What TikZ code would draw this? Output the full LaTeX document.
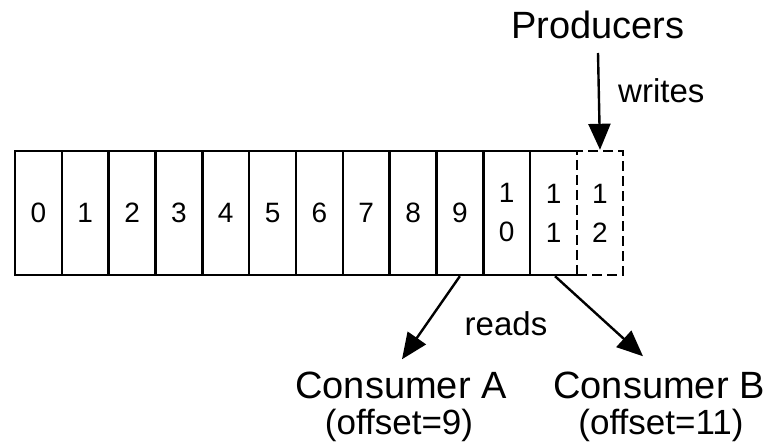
\documentclass[tikz,border=0pt]{standalone}
\usepackage{fontspec}
\setmainfont{Liberation Sans}
\usetikzlibrary{arrows.meta}
\begin{document}
\begin{tikzpicture}[x=1pt,y=-1pt,
  cell/.style={draw, line width=2.4pt, minimum width=46.8pt, minimum height=124pt,
    inner sep=0pt, align=center, font=\fontsize{28}{39}\selectfont},
  newcell/.style={cell, dashed, dash pattern=on 10pt off 5pt, minimum width=46pt},
  big/.style={inner sep=0pt, font=\fontsize{38}{40}\selectfont},
  mid/.style={inner sep=0pt, font=\fontsize{35}{38}\selectfont},
  small/.style={inner sep=0pt, font=\fontsize{33}{36}\selectfont},
  arr/.style={line width=2.4pt, -{Triangle[length=26pt,width=22pt]}}]
\useasboundingbox (0,0) rectangle (770,443);
\foreach \i/\t in {0/0,1/1,2/2,3/3,4/4,5/5,6/6,7/7,8/8,9/9,10/{1\\0},11/{1\\1}}
  \node[cell] (c\i) at ({15+46.83*\i+23.4},213) {\t};
\draw[white, line width=3.5pt] ([yshift=-2pt]c11.north east) -- ([yshift=2pt]c11.south east);
\node[newcell] (c12) at (600,213) {1\\2};
\node[big, anchor=base] (prod) at (598,39) {Producers};
\node[small, anchor=base west] (writes) at (618,103) {writes};
\node[small, anchor=base] (reads) at (506,335) {reads};
\node[big, anchor=base] (consA) at (401,398) {Consumer A};
\node[mid, anchor=base] (offA) at (399,434) {(offset=9)};
\node[big, anchor=base] (consB) at (659,398) {Consumer B};
\node[mid, anchor=base] (offB) at (661,434) {(offset=11)};
\draw[arr] ([yshift=-14pt]prod.base) -- (c12.north);
\draw[arr] (c9.south) -- ([xshift=1pt,yshift=12pt]consA.north);
\draw[arr] ([xshift=1.5pt]c11.south) -- ([xshift=-16pt,yshift=15pt]consB.north);
\end{tikzpicture}
\end{document}
